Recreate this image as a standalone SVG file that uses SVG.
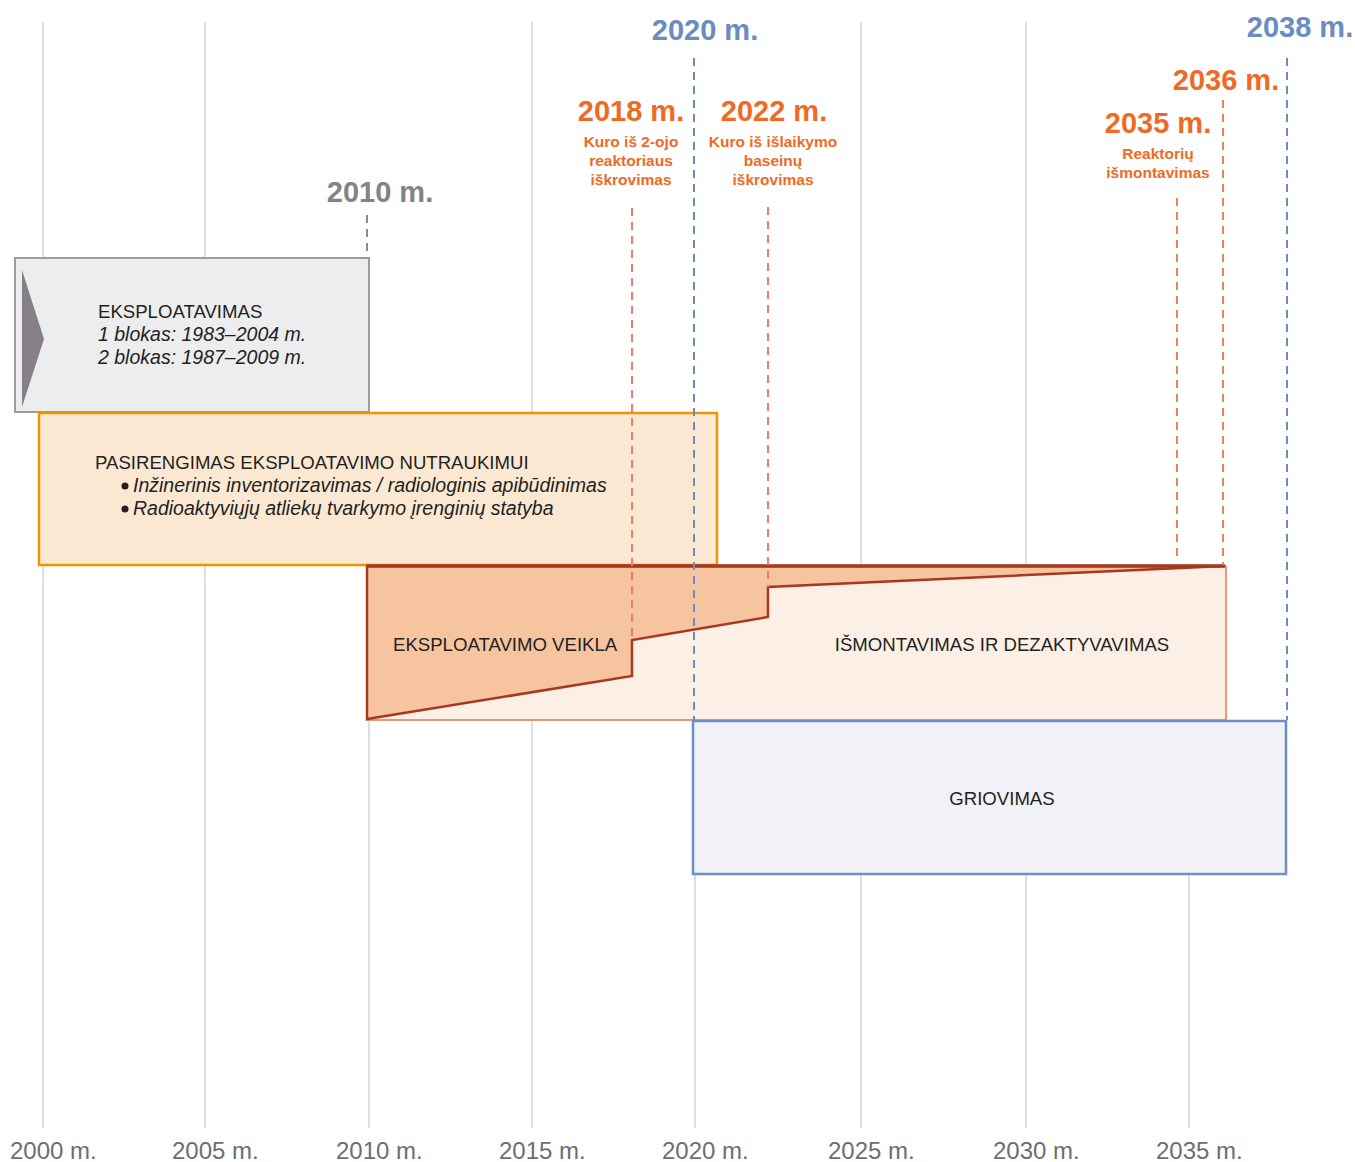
<svg xmlns="http://www.w3.org/2000/svg" width="1355" height="1162" viewBox="0 0 1355 1162">
<style>
.grid{stroke:#dcdee0;stroke-width:2}
.ax{font-family:"Liberation Sans",Arial,sans-serif;font-size:24px;fill:#6d6e71}
.yr{font-family:"Liberation Sans",Arial,sans-serif;font-size:29px;font-weight:bold}
.sub{font-family:"Liberation Sans",Arial,sans-serif;font-size:15.5px;font-weight:bold;fill:#ef6a25;text-anchor:middle}
.lbl{font-family:"Liberation Sans",Arial,sans-serif;font-size:18.6px;fill:#231f20}
.it{font-style:italic;font-size:19.5px}
.dr{stroke:#ee7b6b;stroke-width:2;stroke-dasharray:8 6;fill:none}
.db{stroke:#6a8cc0;stroke-width:2;stroke-dasharray:8 6;fill:none}
.dg{stroke:#8a8a8a;stroke-width:2;stroke-dasharray:8 6;fill:none}
</style>
<rect width="1355" height="1162" fill="#ffffff"/>
<g id="grid">
<line class="grid" x1="43" y1="22" x2="43" y2="1128"/>
<line class="grid" x1="205" y1="22" x2="205" y2="1128"/>
<line class="grid" x1="369" y1="565" x2="369" y2="1128"/>
<line class="grid" x1="532" y1="22" x2="532" y2="1128"/>
<line class="grid" x1="695" y1="720" x2="695" y2="1128"/>
<line class="grid" x1="861" y1="22" x2="861" y2="1128"/>
<line class="grid" x1="1026" y1="22" x2="1026" y2="1128"/>
<line class="grid" x1="1189" y1="565" x2="1189" y2="1128"/>
</g>
<g id="axis-labels">
<text class="ax" x="10" y="1159">2000 m.</text>
<text class="ax" x="172" y="1159">2005 m.</text>
<text class="ax" x="336" y="1159">2010 m.</text>
<text class="ax" x="499" y="1159">2015 m.</text>
<text class="ax" x="662" y="1159">2020 m.</text>
<text class="ax" x="828" y="1159">2025 m.</text>
<text class="ax" x="993" y="1159">2030 m.</text>
<text class="ax" x="1156" y="1159">2035 m.</text>
</g>
<g id="node-eksploatavimas">
<rect x="15" y="258" width="354" height="154" fill="#ecedef" stroke="#9d9d9f" stroke-width="2"/>
<polygon points="22,270 44,339 22,407" fill="#867f85"/>
<text class="lbl" x="98" y="318">EKSPLOATAVIMAS</text>
<text class="lbl it" x="98" y="341">1 blokas: 1983–2004 m.</text>
<text class="lbl it" x="98" y="364">2 blokas: 1987–2009 m.</text>
</g>
<g id="node-pasirengimas">
<rect x="39" y="413" width="678" height="152" fill="#fae8d2" stroke="#f39200" stroke-width="2.5"/>
<text class="lbl" x="95" y="469">PASIRENGIMAS EKSPLOATAVIMO NUTRAUKIMUI</text>
<circle cx="125" cy="486" r="3.5" fill="#231f20"/>
<text class="lbl it" x="133" y="492">Inžinerinis inventorizavimas / radiologinis apibūdinimas</text>
<circle cx="125" cy="509" r="3.5" fill="#231f20"/>
<text class="lbl it" x="133" y="515">Radioaktyviųjų atliekų tvarkymo įrenginių statyba</text>
</g>
<g id="node-ismontavimas">
<rect x="367" y="566" width="859" height="154" fill="#fcefe5" stroke="#e57a45" stroke-width="1.5"/>
<text class="lbl" x="1002" y="651" text-anchor="middle">IŠMONTAVIMAS IR DEZAKTYVAVIMAS</text>
</g>
<g id="node-eksploatavimo-veikla">
<polygon points="367,566 1225,566 768,587 768,617 632,640 632,676 367,719" fill="#f6c5a0" stroke="#a8381f" stroke-width="2.5" stroke-linejoin="miter"/>
<line x1="367" y1="566" x2="1225" y2="566" stroke="#a8381f" stroke-width="3.5"/>
<text class="lbl" x="393" y="651">EKSPLOATAVIMO VEIKLA</text>
</g>
<g id="node-griovimas">
<rect x="693" y="721" width="593" height="153" fill="#f1f2f8" stroke="#6f8fc0" stroke-width="2.5"/>
<text class="lbl" x="1002" y="805" text-anchor="middle">GRIOVIMAS</text>
</g>
<g id="connectors">
<line class="dg" x1="367" y1="215" x2="367" y2="258"/>
<line class="db" x1="694" y1="58" x2="694" y2="720"/>
<line class="db" x1="1287" y1="58" x2="1287" y2="720"/>
<line class="dr" x1="632" y1="208" x2="632" y2="639"/>
<line class="dr" x1="768" y1="207" x2="768" y2="587"/>
<line class="dr" x1="1177" y1="198" x2="1177" y2="562"/>
<line class="dr" x1="1223" y1="100" x2="1223" y2="565"/>
</g>
<g id="milestones">
<text class="yr" x="705" y="40" text-anchor="middle" fill="#6a8cc0">2020 m.</text>
<text class="yr" x="1300" y="37" text-anchor="middle" fill="#6a8cc0">2038 m.</text>
<text class="yr" x="380" y="202" text-anchor="middle" fill="#858285">2010 m.</text>
<text class="yr" x="631" y="121" text-anchor="middle" fill="#ef6a25">2018 m.</text>
<text class="yr" x="774" y="121" text-anchor="middle" fill="#ef6a25">2022 m.</text>
<text class="yr" x="1226" y="90" text-anchor="middle" fill="#ef6a25">2036 m.</text>
<text class="yr" x="1158" y="133" text-anchor="middle" fill="#ef6a25">2035 m.</text>
<text class="sub" x="631" y="147">Kuro iš 2-ojo</text>
<text class="sub" x="631" y="166">reaktoriaus</text>
<text class="sub" x="631" y="185">iškrovimas</text>
<text class="sub" x="773" y="147">Kuro iš išlaikymo</text>
<text class="sub" x="773" y="166">baseinų</text>
<text class="sub" x="773" y="185">iškrovimas</text>
<text class="sub" x="1158" y="159">Reaktorių</text>
<text class="sub" x="1158" y="178">išmontavimas</text>
</g>
</svg>
